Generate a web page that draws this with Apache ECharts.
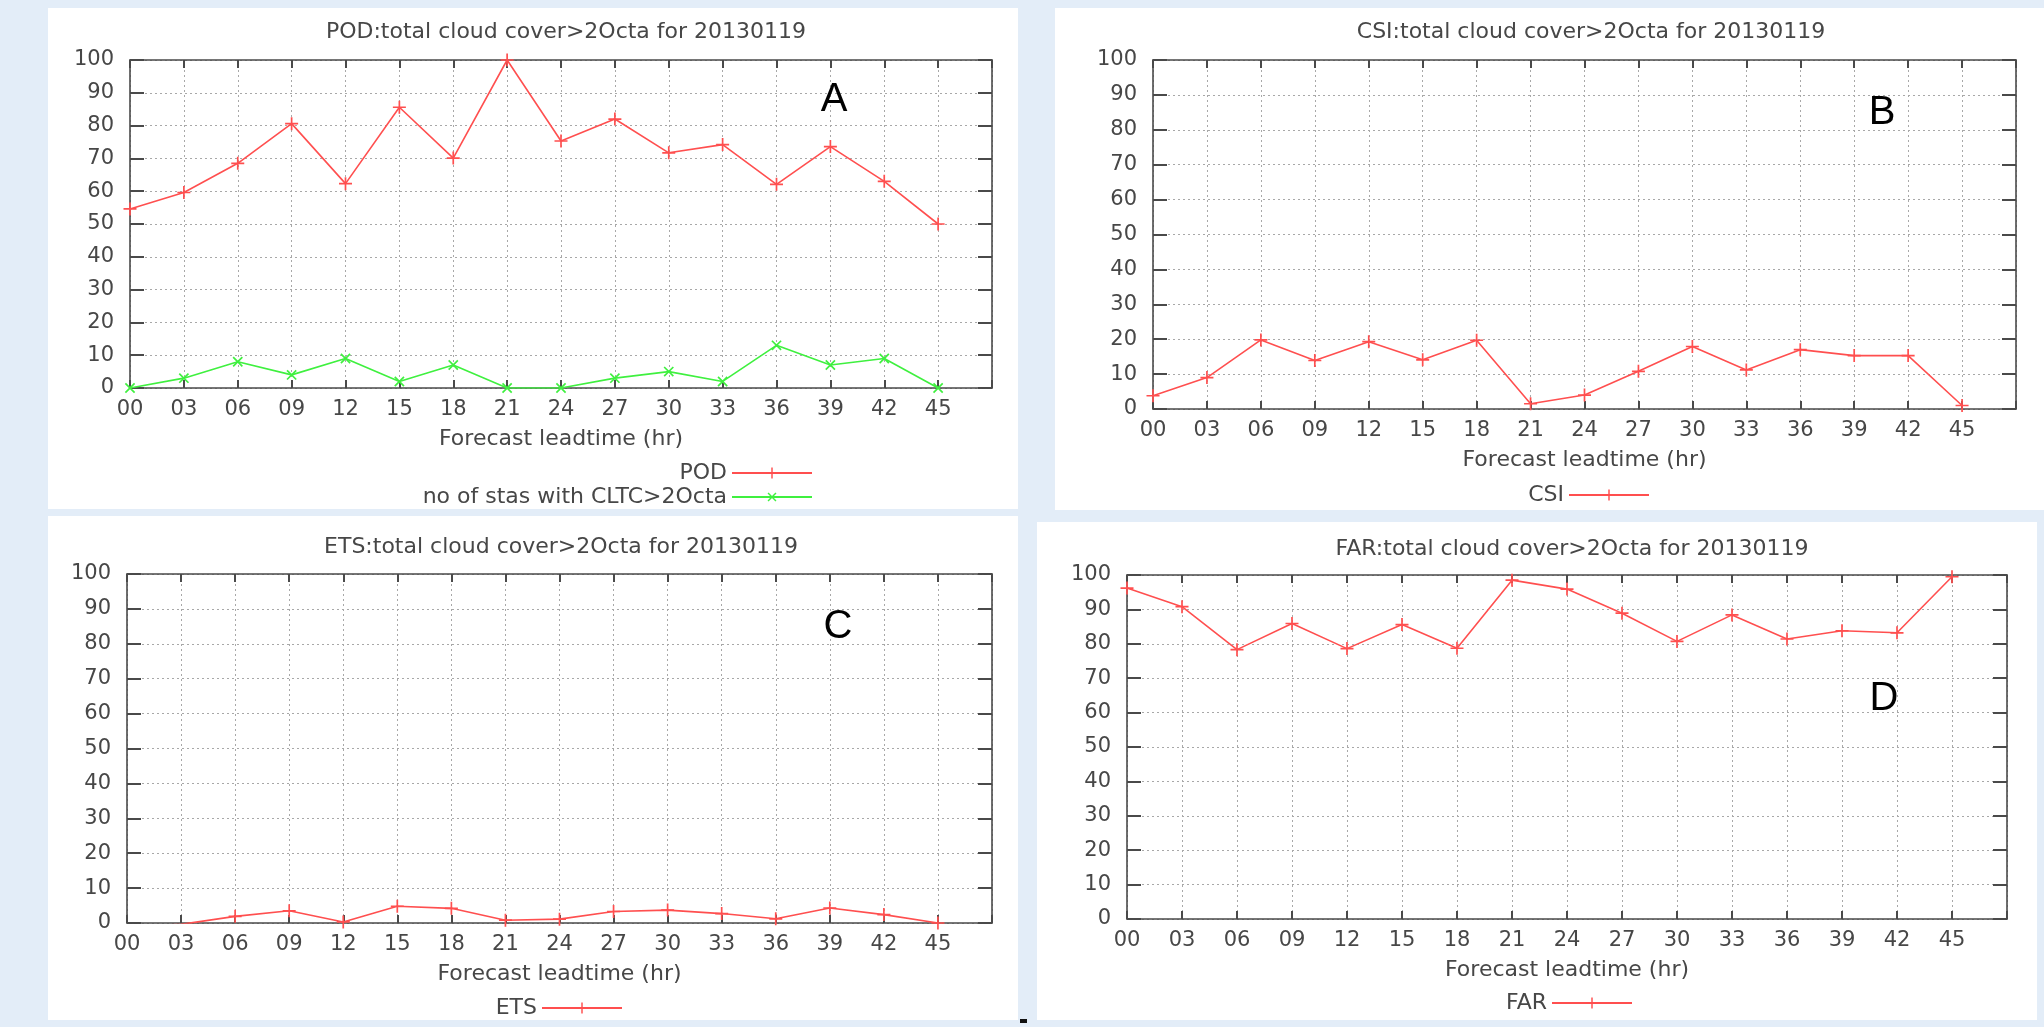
<!DOCTYPE html>
<html>
<head>
<meta charset="utf-8">
<script src="https://cdn.jsdelivr.net/npm/echarts@6/dist/echarts.min.js"></script>
<style>
html,body{margin:0;padding:0;background:#e3edf8;}
#chart{width:2044px;height:1027px;}
</style>
</head>
<body>
<div id="chart"></div>
<script>
// ---- data ----
const leadtimes = [0, 3, 6, 9, 12, 15, 18, 21, 24, 27, 30, 33, 36, 39, 42, 45];
const tickLabels = ['00','03','06','09','12','15','18','21','24','27','30','33','36','39','42','45'];
const yTicks = [0, 10, 20, 30, 40, 50, 60, 70, 80, 90, 100];
const podValues = [54.6, 59.6, 68.5, 80.6, 62.3, 85.6, 70.1, 100, 75.3, 82.0, 71.7, 74.2, 62.1, 73.6, 63.0, 50.0];
const stationCounts = [0, 3, 8, 4, 9, 2, 7, 0, 0, 3, 5, 2, 13, 7, 9, 0];
const csiValues = [3.8, 9.0, 19.8, 13.9, 19.3, 14.1, 19.7, 1.5, 4.0, 10.8, 17.9, 11.2, 17.0, 15.3, 15.3, 1.0];
const etsValues = [-1.0, -0.4, 1.9, 3.5, 0.3, 4.8, 4.2, 0.8, 1.1, 3.3, 3.7, 2.7, 1.2, 4.3, 2.4, 0.0];
const farValues = [96.2, 90.8, 78.3, 85.9, 78.6, 85.6, 78.7, 98.5, 95.9, 88.9, 80.7, 88.4, 81.4, 83.8, 83.2, 99.5];
const panelTitles = [
  'POD:total cloud cover>2Octa for 20130119',
  'CSI:total cloud cover>2Octa for 20130119',
  'ETS:total cloud cover>2Octa for 20130119',
  'FAR:total cloud cover>2Octa for 20130119'
];
const panelLetters = ['A', 'B', 'C', 'D'];
const xAxisName = 'Forecast leadtime (hr)';
const seriesNames = ['POD', 'no of stas with CLTC>2Octa', 'CSI', 'ETS', 'FAR'];

// ---- layout / style ----
const FONT = '"DejaVu Sans", sans-serif';
const AX = '#4a4a4a';
const TXT = '#474747';
const RED = '#ff4f4f';
const GREEN = '#3ff03f';
const PLUS = 'path://M4.35,0h1.3v10h-1.3zM0,4.35h10v1.3h-10z';

const grids = [
  {left: 130, top: 60, width: 862, height: 328},
  {left: 1153, top: 60, width: 863, height: 349},
  {left: 127, top: 574, width: 865, height: 349},
  {left: 1127, top: 575, width: 880, height: 344}
];
const titlePos = [[561, 16], [1586, 16], [556, 531], [1567, 533]];
const letterPos = [[834, 100], [1882, 113], [838, 627], [1884, 699]];
const panels = [
  [48, 8, 970, 501], [1055, 8, 990, 502], [48, 516, 970, 504], [1037, 522, 1000, 498]
];

function fmtX(v) {
  const i = leadtimes.indexOf(v);
  return i >= 0 ? tickLabels[i] : '';
}

const xAxes = [], yAxes = [];
grids.forEach((g, i) => {
  const common = {
    type: 'value', gridIndex: i, min: 0, max: 48, interval: 3,
    axisLine: {show: true, onZero: false, lineStyle: {color: AX, width: 1.6}},
    axisTick: {show: true, inside: true, length: 8, lineStyle: {color: AX, width: 2}}
  };
  xAxes.push(Object.assign({}, common, {
    position: 'bottom',
    axisLabel: {margin: 11, fontSize: 21, color: TXT, fontFamily: FONT, formatter: fmtX},
    splitLine: {show: true, lineStyle: {color: '#a8a8a8', type: [2, 3], width: 1}},
    name: xAxisName, nameLocation: 'middle', nameGap: 40,
    nameTextStyle: {fontSize: 22, color: TXT, fontFamily: FONT}
  }));
  xAxes.push(Object.assign({}, common, {
    position: 'top', axisLabel: {show: false}, splitLine: {show: false}
  }));
  const ycommon = {
    type: 'value', gridIndex: i, min: yTicks[0], max: yTicks[yTicks.length - 1], interval: 10,
    axisLine: {show: true, onZero: false, lineStyle: {color: AX, width: 1.6}},
    axisTick: {show: true, inside: true, length: 14, lineStyle: {color: AX, width: 2}}
  };
  yAxes.push(Object.assign({}, ycommon, {
    position: 'left',
    axisLabel: {margin: 16, fontSize: 21, color: TXT, fontFamily: FONT},
    splitLine: {show: true, lineStyle: {color: '#a8a8a8', type: [2, 3], width: 1}}
  }));
  yAxes.push(Object.assign({}, ycommon, {
    position: 'right', axisLabel: {show: false}, splitLine: {show: false}
  }));
});

function pairs(vals) { return leadtimes.map((x, k) => [x, vals[k]]); }
function lineSeries(name, vals, gi, color, rotate) {
  return {
    type: 'line', name: name, data: pairs(vals),
    xAxisIndex: gi * 2, yAxisIndex: gi * 2,
    symbol: PLUS, symbolSize: 13, symbolRotate: rotate || 0,
    showAllSymbol: true, clip: true,
    lineStyle: {color: color, width: 1.6},
    itemStyle: {color: color},
    emphasis: {disabled: true}, animation: false
  };
}

const legendBase = {
  orient: 'vertical', align: 'right', itemWidth: 80, itemHeight: 14, itemGap: 2, padding: 0,
  textStyle: {fontSize: 22, color: TXT, fontFamily: FONT}, selectedMode: false
};

const option = {
  animation: false,
  backgroundColor: '#e3edf8',
  grid: grids.map(g => Object.assign({show: false}, g)),
  xAxis: xAxes,
  yAxis: yAxes,
  title: panelTitles.map((t, i) => ({
    text: t, left: titlePos[i][0], top: titlePos[i][1], textAlign: 'center',
    textStyle: {fontSize: 22, fontWeight: 'normal', color: TXT, fontFamily: FONT}
  })),
  legend: [
    Object.assign({}, legendBase, {data: [seriesNames[0], seriesNames[1]], right: 1231, top: 462}),
    Object.assign({}, legendBase, {data: [seriesNames[2]], right: 394, top: 484}),
    Object.assign({}, legendBase, {data: [seriesNames[3]], right: 1421, top: 997}),
    Object.assign({}, legendBase, {data: [seriesNames[4]], right: 411, top: 992})
  ],
  graphic: [
    ...panels.map(p => ({type: 'rect', z: -10, silent: true,
      shape: {x: p[0], y: p[1], width: p[2], height: p[3]}, style: {fill: '#ffffff'}})),
    {type: 'rect', z: -10, silent: true, shape: {x: 1020, y: 1019, width: 7, height: 4}, style: {fill: '#111'}},
    ...panelLetters.map((L, i) => ({type: 'text', z: 50, silent: true,
      x: letterPos[i][0], y: letterPos[i][1],
      style: {text: L, font: '40px "Liberation Sans", Arial, sans-serif', fill: '#000',
        align: 'center', verticalAlign: 'middle'}}))
  ],
  series: [
    lineSeries(seriesNames[0], podValues, 0, RED),
    lineSeries(seriesNames[1], stationCounts, 0, GREEN, 45),
    lineSeries(seriesNames[2], csiValues, 1, RED),
    lineSeries(seriesNames[3], etsValues, 2, RED),
    lineSeries(seriesNames[4], farValues, 3, RED)
  ]
};

const chart = echarts.init(document.getElementById('chart'), null, {renderer: 'canvas'});
chart.setOption(option);
</script>
</body>
</html>
